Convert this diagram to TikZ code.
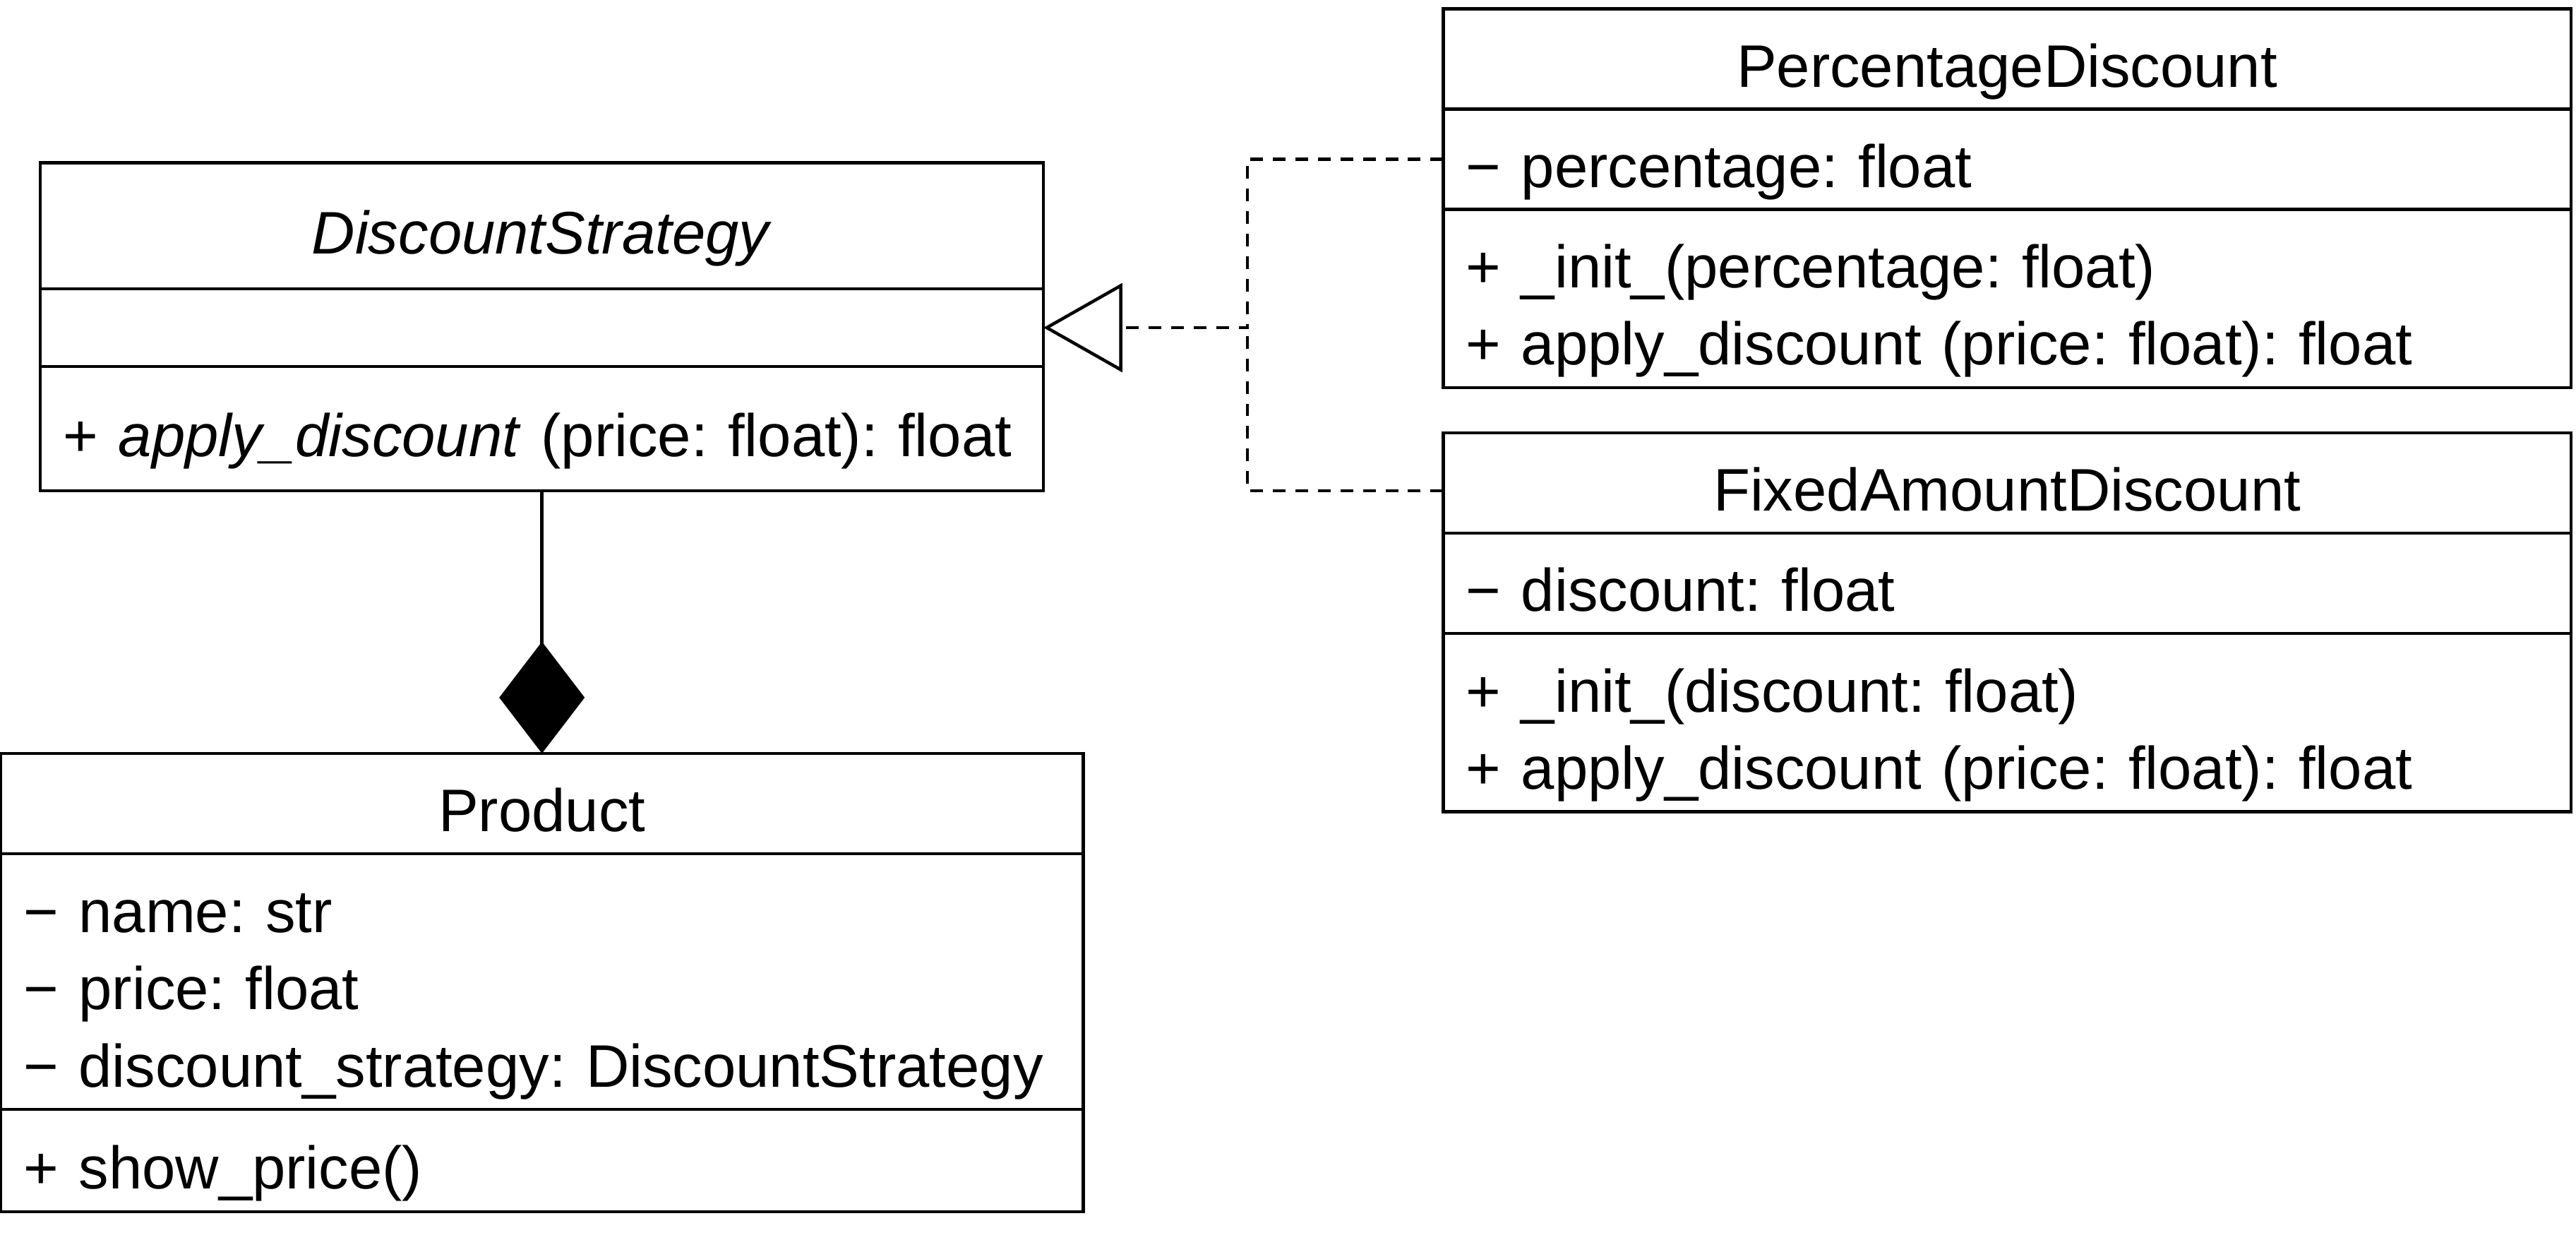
\documentclass[tikz,border=0pt]{standalone}
\usepackage{fontspec}
\setmainfont{Liberation Sans}
\usetikzlibrary{positioning,arrows.meta}

\begin{document}
\begin{tikzpicture}[line width=0.55pt,
		umlpart/.style={draw,rectangle,outer sep=0pt,inner xsep=0.14cm,inner ysep=0pt,
			text height=0.34cm,text depth=0pt,font=\fontsize{10.4pt}{0.47cm}\selectfont\frenchspacing},
		strat part/.style={umlpart,text width=5.826cm},
		prod part/.style={umlpart,text width=6.31cm},
		impl part/.style={umlpart,text width=6.585cm},
		realize/.style={dash pattern=on 2.2pt off 1.7pt}]
		\useasboundingbox (0,0) rectangle (15.681,-7.542);

		\node[strat part, align=center, minimum height=0.768cm, anchor=north west] (strat) at (0.246,-0.99) {\textit{DiscountStrategy}};
		\node[strat part, minimum height=0.472cm] (strat-attr) [below=0pt of strat] {};
		\node[strat part, align=left, minimum height=0.757cm] (strat-ops) [below=0pt of strat-attr] {+ \textit{apply\_discount} (price: float): float};

		\node[prod part, align=center, minimum height=0.611cm] (prod) [below=1.598cm of strat-ops] {Product};
		\node[prod part, align=left, text depth=0.94cm, minimum height=1.556cm] (prod-attr) [below=0pt of prod] {− name: str\\− price: float\\− discount\_strategy: DiscountStrategy};
		\node[prod part, align=left, minimum height=0.623cm] (prod-ops) [below=0pt of prod-attr] {+ show\_price()};

		\node[impl part, align=center, minimum height=0.61cm, anchor=north west] (pct) at (8.785,-0.054) {PercentageDiscount};
		\node[impl part, align=left, minimum height=0.61cm] (pct-attr) [below=0pt of pct] {− percentage: float};
		\node[impl part, align=left, text depth=0.47cm, minimum height=1.085cm] (pct-ops) [below=0pt of pct-attr] {+ \_init\_(percentage: float)\\+ apply\_discount (price: float): float};

		\node[impl part, align=center, minimum height=0.61cm] (fix) [below=0.276cm of pct-ops] {FixedAmountDiscount};
		\node[impl part, align=left, minimum height=0.61cm] (fix-attr) [below=0pt of fix] {− discount: float};
		\node[impl part, align=left, text depth=0.47cm, minimum height=1.085cm] (fix-ops) [below=0pt of fix-attr] {+ \_init\_(discount: float)\\+ apply\_discount (price: float): float};

		\coordinate (join) at (strat-attr.east -| 7.594,0);
		\draw[realize, -{Triangle[open, length=4.8mm, width=5.4mm]}] (pct-attr.west) -| (join) -- (strat-attr.east);
		\draw[realize] (fix.west |- strat-ops.south) -| (join);
		\draw[-{Diamond[length=6.8mm, width=5.2mm]}] (strat-ops.south) -- (prod.north);
\end{tikzpicture}
\end{document}
